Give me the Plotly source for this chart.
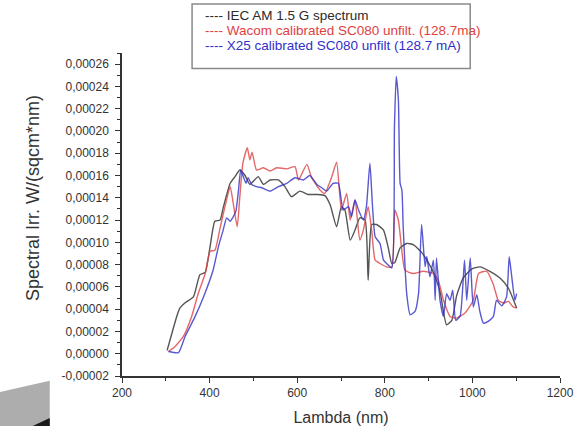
import plotly.graph_objects as go

# ---------------- data ----------------
series_names = [
    "IEC AM 1.5 G spectrum",
    "Wacom calibrated SC080 unfilt. (128.7ma)",
    "X25 calibrated SC080 unfilt (128.7 mA)",
]
series_colors = ["#2b2b2b", "#e04242", "#3030c8"]

iec_x = [303, 325, 332, 345, 363, 378, 390, 401, 412, 424, 431, 447, 458, 469, 481, 492,
         511, 523, 538, 557, 572, 587, 606, 625, 645, 663, 675, 690, 701, 709, 721, 732,
         743, 755, 762, 770, 781, 797, 808, 816, 823, 835, 850, 865, 884, 899, 911, 926,
         941, 953, 964, 979, 998, 1017, 1040, 1063, 1082, 1101]
iec_y = [0.3, 3.35, 4.1, 4.6, 5.1, 7.1, 7.3, 9.6, 11.9, 12.0, 13.1, 15.3, 15.9, 16.5, 16.0, 15.2,
         15.9, 15.2, 15.6, 15.6, 15.0, 14.1, 14.6, 14.3, 14.3, 14.2, 13.4, 11.4, 13.2, 12.9, 10.2, 11.1,
         12.2, 12.0, 6.6, 11.6, 11.6, 11.1, 9.5, 8.1, 8.2, 9.5, 9.9, 9.8, 9.1, 8.2, 7.3, 5.6,
         2.6, 3.0, 5.2, 6.8, 7.6, 7.8, 7.4, 6.8, 5.9, 4.1]

wacom_x = [306, 320, 340, 359, 374, 390, 401, 412, 424, 435, 447, 454, 463, 469, 476, 486,
           492, 497, 507, 523, 538, 553, 576, 595, 603, 622, 633, 652, 663, 679, 690, 701,
           713, 721, 732, 743, 751, 762, 770, 778, 789, 804, 816, 823, 831, 838, 846, 865,
           888, 911, 922, 934, 949, 964, 983, 1002, 1014, 1033, 1048, 1059, 1071, 1082, 1093, 1101]
wacom_y = [0.2, 0.6, 1.55, 3.35, 5.4, 7.2, 9.2, 9.3, 11.3, 13.2, 15.0, 13.5, 11.4, 14.1, 17.1, 18.5,
           17.4, 18.1, 16.5, 16.7, 16.4, 16.7, 16.6, 16.8, 15.6, 17.0, 15.8, 14.7, 14.4, 15.9, 17.2, 12.9,
           14.4, 12.0, 13.8, 10.2, 11.1, 13.2, 11.1, 8.4, 8.1, 7.8, 7.8, 12.9, 12.0, 9.6, 7.5, 7.2,
           7.4, 7.2, 6.6, 4.8, 3.35, 3.2, 3.65, 4.8, 7.2, 7.4, 6.2, 4.8, 4.55, 4.7, 4.2, 4.1]

x25_x = [306, 329, 344, 367, 386, 408, 420, 431, 439, 447, 454, 460, 466, 471, 477, 483,
         488, 496, 507, 519, 538, 557, 576, 595, 614, 629, 645, 656, 667, 682, 694, 705,
         717, 724, 732, 740, 751, 758, 766, 772, 778, 789, 797, 804, 816, 822, 826, 831,
         835, 839, 842, 850, 858, 869, 877, 884, 892, 896, 903, 911, 915, 918, 926, 934,
         941, 949, 955, 962, 972, 982, 987, 995, 1002, 1010, 1017, 1025, 1036, 1048, 1055, 1067,
         1078, 1084, 1089, 1097, 1101]
x25_y = [0.2, 0.1, 1.55, 3.35, 5.1, 7.5, 9.6, 11.1, 12.2, 11.9, 12.3, 12.8, 14.7, 16.5, 15.9, 15.3,
         15.8, 15.2, 15.0, 14.9, 14.6, 15.0, 15.3, 15.8, 15.6, 16.0, 15.2, 14.9, 14.6, 15.3, 15.3, 12.9,
         13.2, 12.3, 13.8, 12.9, 12.0, 13.2, 17.1, 13.2, 10.5, 9.9, 8.4, 8.1, 7.7, 20.4, 24.9, 22.8,
         15.3, 14.7, 11.4, 5.4, 3.5, 3.8, 5.4, 11.6, 7.8, 8.7, 6.9, 8.4, 4.8, 8.6, 4.8, 3.35,
         5.4, 4.8, 5.7, 3.0, 3.4, 8.4, 4.8, 8.6, 4.2, 5.3, 3.8, 2.75, 2.9, 3.35, 4.8, 4.3,
         5.1, 8.7, 7.2, 4.8, 5.4]

y_scale = 1e-5  # values above are in units of 1e-5 W/(sqcm*nm)

x_ticks = [200, 400, 600, 800, 1000, 1200]
y_ticks = [-0.00002, 0.0, 0.00002, 0.00004, 0.00006, 0.00008, 0.00010, 0.00012,
           0.00014, 0.00016, 0.00018, 0.00020, 0.00022, 0.00024, 0.00026]
y_tick_text = [("-" if v < 0 else "") + f"{abs(v):.5f}".replace(".", ",") for v in y_ticks]

x_title = "Lambda (nm)"
y_title = "Spectral Irr. W/(sqcm*nm)"

FONT = "Liberation Sans, Arial, sans-serif"

# ---------------- figure ----------------
fig = go.Figure()
all_x = [iec_x, wacom_x, x25_x]
all_y = [iec_y, wacom_y, x25_y]
for name, col, xs, ys in zip(series_names, series_colors, all_x, all_y):
    fig.add_trace(go.Scatter(
        x=xs, y=[v * y_scale for v in ys], mode="lines", name=name,
        line=dict(color=col, width=1.4, shape="spline", smoothing=0.5),
        opacity=0.8, showlegend=False,
    ))

fig.update_layout(
    width=582, height=426,
    margin=dict(l=122, r=22, t=53, b=50),
    paper_bgcolor="white", plot_bgcolor="white",
    font=dict(family=FONT, color="#333333", size=12),
    showlegend=False,
)

fig.update_xaxes(
    range=[200, 1200], tickvals=x_ticks, ticktext=[str(v) for v in x_ticks],
    showgrid=False, zeroline=False, automargin=False,
    showline=True, linecolor="#333333", linewidth=1.5,
    ticks="outside", ticklen=5, tickwidth=1.2, tickcolor="#333333",
    minor=dict(tickmode="linear", tick0=300, dtick=200, ticks="outside", ticklen=3,
               tickwidth=1, tickcolor="#333333", showgrid=False),
    tickfont=dict(size=12, color="#333333"),
    title=dict(text=x_title, font=dict(size=16, color="#333333"), standoff=16),
)
fig.update_yaxes(
    range=[-0.00002, 0.00027], tickvals=y_ticks, ticktext=y_tick_text,
    showgrid=False, zeroline=False, automargin=False,
    showline=True, linecolor="#333333", linewidth=1.5,
    ticks="outside", ticklen=5, tickwidth=1.2, tickcolor="#333333",
    minor=dict(tickmode="linear", tick0=-0.00001, dtick=0.00002, ticks="outside", ticklen=3,
               tickwidth=1, tickcolor="#333333", showgrid=False),
    tickfont=dict(size=12, color="#333333"),
    ticklabelstandoff=4,
)

# y title as annotation (positioned like the original)
fig.add_annotation(
    text=y_title, textangle=-90, xref="paper", yref="paper",
    x=-0.203, y=0.551, xanchor="center", yanchor="middle", showarrow=False,
    font=dict(size=18, color="#333333", family=FONT),
)

# legend box drawn as shape + annotations
fig.add_shape(type="rect", xref="paper", yref="paper",
              x0=0.16, x1=0.795, y0=0.952, y1=1.152,
              line=dict(color="#8a8a8a", width=1.5), fillcolor="white", layer="above")
row_y = [1.116, 1.069, 1.023]
for name, col, ry in zip(series_names, series_colors, row_y):
    fig.add_annotation(
        text="---- " + name, xref="paper", yref="paper", x=0.185, y=ry,
        xanchor="left", yanchor="middle", showarrow=False,
        font=dict(size=13.5, color=col, family=FONT),
    )

# decorative slide wedge at bottom-left
fig.add_shape(type="path", xref="paper", yref="paper",
              path="M -0.279,-0.05 L -0.165,-0.015 L -0.165,-0.155 L -0.279,-0.155 Z",
              fillcolor="#adadad", line=dict(width=0), layer="above")
fig.add_shape(type="path", xref="paper", yref="paper",
              path="M -0.204,-0.155 L -0.165,-0.13 L -0.165,-0.155 Z",
              fillcolor="#1a1a1a", line=dict(width=0), layer="above")

fig.write_html("out.html")
